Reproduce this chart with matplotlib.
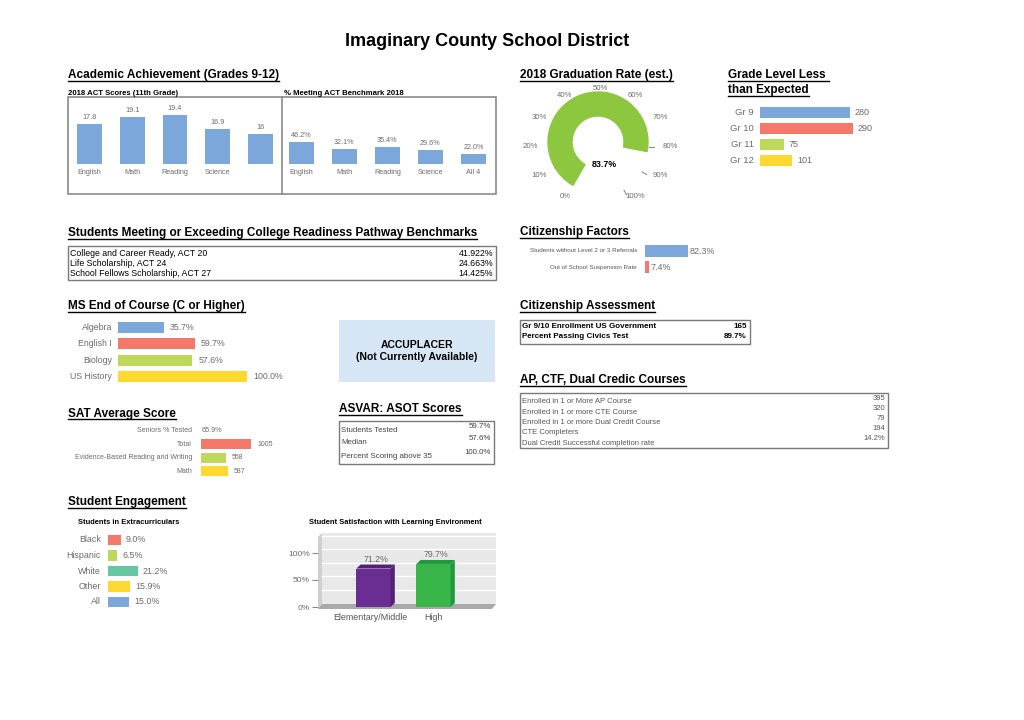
import matplotlib
matplotlib.use("Agg")
import numpy as np
import matplotlib.pyplot as plt
from matplotlib.patches import Rectangle, Wedge, Polygon

plt.rcParams['font.family'] = ['Liberation Sans', 'DejaVu Sans']

W, H = 1024, 720

# ---- data ----
act_subjects = ['English', 'Math', 'Reading', 'Science', '']
act_scores = [17.8, 19.1, 19.4, 16.9, 16]
bench_subjects = ['English', 'Math', 'Reading', 'Science', 'All 4']
bench_pct = [46.2, 32.1, 35.4, 29.6, 22.0]
grad_rate = 83.7
grade_labels = ['Gr 9', 'Gr 10', 'Gr 11', 'Gr 12']
grade_counts = [280, 290, 75, 101]
readiness_labels = ['College and Career Ready, ACT 20', 'Life Scholarship, ACT 24',
                    'School Fellows Scholarship, ACT 27']
readiness_values = ['41.922%', '24.663%', '14.425%']
citizen_labels = ['Students without Level 2 or 3 Referrals', 'Out of School Suspension Rate']
citizen_pct = [82.3, 7.4]
eoc_courses = ['Algebra', 'English I', 'Biology', 'US History']
eoc_pct = [35.7, 59.7, 57.6, 100.0]
sat_tested_label = 'Seniors % Tested'
sat_tested = '65.9%'
sat_labels = ['Total', 'Evidence-Based Reading and Writing', 'Math']
sat_scores = [1005, 558, 587]
asvab_labels = ['Students Tested', 'Median', 'Percent Scoring above 35']
asvab_values = ['59.7%', '57.6%', '100.0%']
civics_labels = ['Gr 9/10 Enrollment US Government', 'Percent Passing Civics Test']
civics_values = ['165', '89.7%']
ap_labels = ['Enrolled in 1 or More AP Course', 'Enrolled in 1 or more CTE Course',
             'Enrolled in 1 or more Dual Credit Course', 'CTE Completers',
             'Dual Credit Successful completion rate']
ap_values = ['395', '320', '79', '194', '14.2%']
extra_groups = ['Black', 'Hispanic', 'White', 'Other', 'All']
extra_pct = [9.0, 6.5, 21.2, 15.9, 15.0]
satis_levels = ['Elementary/Middle', 'High']
satis_pct = [71.2, 79.7]

# colours
BLUE = '#7BA7DB'
RED = '#F4796B'
LIME = '#BDD85B'
YELLOW = '#FFD92F'
TEAL = '#66C8A2'
GAUGE = '#8DC63F'
GRAY = '#6b6b6b'

fig = plt.figure(figsize=(W / 100, H / 100), dpi=100)
base = fig.add_axes([0, 0, 1, 1])
base.set_xlim(0, W)
base.set_ylim(H, 0)
base.axis('off')


def px_axes(x0, y0, x1, y1):
    """axes placed by pixel box (top-left origin)"""
    ax = fig.add_axes([x0 / W, 1 - y1 / H, (x1 - x0) / W, (y1 - y0) / H])
    ax.axis('off')
    return ax


headings = []


def heading(x, y, s, size=8.5):
    t = base.text(x, y, s, fontsize=size, fontweight='bold', va='baseline', ha='left')
    headings.append(t)


def note(ax, s, xy, dx, dy, **kw):
    kw.setdefault('color', GRAY)
    return ax.annotate(s, xy, xytext=(dx, dy), textcoords='offset pixels',
                       annotation_clip=False, **kw)


def hbar_panel(box, labels, values, colors, xmin, xmax, height, fs, lab_pad, val_pad,
               fmt, vfs=None, lab_color=GRAY):
    ax = px_axes(*box)
    pos = list(range(len(values)))
    ax.barh(pos, [v - xmin for v in values], left=xmin, height=height, color=colors)
    ax.set_xlim(xmin, xmax)
    ax.set_ylim(len(values) - 0.5, -0.5)
    for i, (lab, v) in enumerate(zip(labels, values)):
        note(ax, lab, (xmin, i), -lab_pad, 0, ha='right', va='center', fontsize=fs, color=lab_color)
        note(ax, fmt(v), (v, i), val_pad, 0, ha='left', va='center', fontsize=vfs or fs)
    return ax


def table(x0, y0, x1, y1, labels, values, label_y, value_y, fs, color, weight='normal'):
    base.add_patch(Rectangle((x0, y0), x1 - x0, y1 - y0, fill=False, ec='#7a7a7a', lw=1))
    for lab, ly in zip(labels, label_y):
        base.text(x0 + 2, ly, lab, fontsize=fs, color=color, va='center', fontweight=weight)
    for val, vy in zip(values, value_y):
        base.text(x1 - 3, vy, val, fontsize=fs, color=color, va='center', ha='right',
                  fontweight=weight)


# ---- title ----
base.text(487, 41, 'Imaginary County School District', ha='center', va='center',
          fontsize=13, fontweight='bold')

# ---- academic achievement ----
heading(68, 78, 'Academic Achievement (Grades 9-12)')
base.text(68, 95, '2018 ACT Scores (11th Grade)', fontsize=5.6, fontweight='bold')
base.text(284, 95, '% Meeting ACT Benchmark 2018', fontsize=5.6, fontweight='bold')
base.add_patch(Rectangle((68, 97), 428, 97, fill=False, ec='#8a8a8a', lw=1.2))
base.plot([282, 282], [97, 194], color='#8a8a8a', lw=1.2)

act_lo = 10.7
ax = px_axes(68, 100, 282, 164)
ax.bar(range(len(act_scores)), [s - act_lo for s in act_scores], bottom=act_lo,
       width=0.58, color=BLUE)
ax.set_xlim(-0.5, len(act_scores) - 0.5)
ax.set_ylim(act_lo, act_lo + 64 / 5.6)
for i, (lab, v) in enumerate(zip(act_subjects, act_scores)):
    note(ax, f'{v:g}', (i, v), 0, 3, ha='center', va='bottom', fontsize=5.2)
    note(ax, lab, (i, act_lo), 0, -5, ha='center', va='top', fontsize=5.2)

ax = px_axes(280, 100, 495, 164)
ax.bar(range(len(bench_pct)), bench_pct, width=0.58, color=BLUE)
ax.set_xlim(-0.5, len(bench_pct) - 0.5)
ax.set_ylim(0, 64 / 0.475)
for i, (lab, v) in enumerate(zip(bench_subjects, bench_pct)):
    note(ax, f'{v:.1f}%', (i, v), 0, 3, ha='center', va='bottom', fontsize=5.2)
    note(ax, lab, (i, 0), 0, -5, ha='center', va='top', fontsize=5.2)

# ---- graduation gauge ----
heading(520, 78, '2018 Graduation Rate (est.)')
gax = px_axes(528, 72, 668, 212)
gax.set_xlim(-70, 70)
gax.set_ylim(-70, 70)
g_start, g_span = 240, 300


def g_ang(p):
    return g_start - g_span * p / 100


gax.add_patch(Wedge((0, 0), 50, g_ang(grad_rate), g_ang(0), width=24, color=GAUGE))
for p in range(0, 101, 10):
    a = np.deg2rad(g_ang(p))
    c, s = np.cos(a), np.sin(a)
    if p + 10 > grad_rate:
        gax.plot([1 + 50 * c, 1 + 55 * c], [-5 + 50 * s, -5 + 55 * s],
                 color='#8a8a8a', lw=0.8)
    gax.text(2 + 70 * c, -4 + 58 * s, f'{p}%', ha='center', va='center',
             fontsize=5.6, color=GRAY)
gax.text(6, -22, f'{grad_rate}%', ha='center', va='center', fontsize=6.4, fontweight='bold')

# ---- grade level less than expected ----
heading(728, 78, 'Grade Level Less ')
heading(728, 93, 'than Expected')
hbar_panel((760, 103.9, 880, 169.1), grade_labels, grade_counts, [BLUE, RED, LIME, YELLOW],
           0, 375, 0.68, 6.8, 6, 5, lambda v: f'{v}', vfs=6.5)

# ---- college readiness ----
heading(68, 236, 'Students Meeting or Exceeding College Readiness Pathway Benchmarks')
table(68, 246, 496, 280, readiness_labels, readiness_values, [254, 264, 274], [254, 264, 274],
      6.3, 'black')

# ---- citizenship factors ----
heading(520, 235, 'Citizenship Factors')
hbar_panel((645, 243, 745, 275), citizen_labels, citizen_pct, [BLUE, RED], 0, 192, 0.72,
           4.5, 8, 2, lambda v: f'{v:.1f}%', vfs=6.4, lab_color='#555555')

# ---- MS end of course ----
heading(68, 309, 'MS End of Course (C or Higher)')
hbar_panel((118, 318.7, 318, 385.3), eoc_courses, eoc_pct, [BLUE, RED, LIME, YELLOW],
           0, 155, 0.66, 6.3, 6, 6, lambda v: f'{v:.1f}%')

base.add_patch(Rectangle((339, 320), 156, 62, fc='#D6E6F5', ec='none'))
base.text(417, 351, 'ACCUPLACER\n(Not Currently Available)', ha='center', va='center',
          fontsize=7.5, fontweight='bold', linespacing=1.3)

# ---- citizenship assessment ----
heading(520, 309, 'Citizenship Assessment')
table(520, 320, 750, 344, civics_labels, civics_values, [327, 337], [327, 337], 5.8, 'black',
      weight='bold')

# ---- AP / CTE / dual credit ----
heading(520, 383, 'AP, CTF, Dual Credic Courses')
table(520, 393, 888, 448, ap_labels, ap_values, [401.5, 412, 422.5, 433, 443.5],
      [398.5, 408.5, 418, 428, 438], 5.5, '#555555')

# ---- SAT ----
heading(68, 416.5, 'SAT Average Score')
sat_lo = 110
sax = hbar_panel((201, 437.7, 301, 477.9), sat_labels, sat_scores, [RED, LIME, YELLOW],
                 sat_lo, sat_lo + 100 / 0.0559, 0.74, 5, 9, 6, lambda v: f'{v}')
note(sax, sat_tested_label, (sat_lo, -1), -9, 0, ha='right', va='center', fontsize=5)
note(sax, sat_tested, (sat_lo, -1), 1, 0, ha='left', va='center', fontsize=5.2)

# ---- ASVAB ----
heading(339, 412.5, 'ASVAR: ASOT Scores')
table(339, 421, 494, 464, asvab_labels, asvab_values, [430, 443, 456], [426, 439, 452],
      5.7, '#444444')

# ---- student engagement ----
heading(68, 505, 'Student Engagement')
base.text(129, 523, 'Students in Extracurriculars', ha='center', va='center', fontsize=5.4,
          fontweight='bold')
base.text(395, 523, 'Student Satisfaction with Learning Environment', ha='center',
          va='center', fontsize=5.4, fontweight='bold')

hbar_panel((108, 532.25, 208, 609.75), extra_groups, extra_pct, [RED, LIME, TEAL, YELLOW, BLUE],
           0, 71.4, 0.7, 6.4, 7, 5, lambda v: f'{v:.1f}%')

# 3D-look column chart: wall, side wall and floor
base.add_patch(Rectangle((322, 533), 174, 71, fc='#E8E8E8', ec='none'))
base.add_patch(Polygon([(318, 537), (322, 533), (322, 604), (318, 609)], fc='#CFCFCF', ec='none'))
base.add_patch(Polygon([(318, 609), (322, 604), (496, 604), (492, 609)], fc='#A9A9A9', ec='none'))
for k in range(1, 6):
    gy = 603 - 13.5 * k
    base.plot([322, 496], [gy, gy], color='white', lw=1)

cax = fig.add_axes([318 / W, 1 - 607 / H, 178 / W, 74 / H])
cax.patch.set_alpha(0)
for s in cax.spines.values():
    s.set_visible(False)
cax.set_xlim(-55.5 / 60, (178 - 55.5) / 60)
cax.set_ylim(0, 74 / 0.54)
cax.set_xticks([])
cax.set_yticks([0, 50, 100])
cax.set_yticklabels(['0%', '50%', '100%'])
cax.tick_params(axis='y', length=4, color='#8a8a8a', labelsize=6.1, labelcolor=GRAY, pad=2)
bw, ddx, ddy = 0.57, 0.07, 7.4
fronts = ['#6A2D91', '#3AB54A']
sides = ['#55207A', '#1E9A3C']
cax.bar(range(len(satis_pct)), satis_pct, width=bw, color=fronts, zorder=3)
for i, v in enumerate(satis_pct):
    x0, x1 = i - bw / 2, i + bw / 2
    cax.add_patch(Polygon([(x0, v), (x1, v), (x1 + ddx, v + ddy), (x0 + ddx, v + ddy)],
                          fc=sides[i], ec='none', zorder=3))
    cax.add_patch(Polygon([(x1, 0), (x1 + ddx, ddy), (x1 + ddx, v + ddy), (x1, v)],
                          fc=sides[i], ec='none', zorder=3))
    note(cax, f'{v:.1f}%', (i + ddx / 2, v + ddy), 0, 1, ha='center', va='bottom', fontsize=6.3)
    note(cax, satis_levels[i], (i, 0), -3 if i == 0 else 0, -6, ha='center', va='top',
         fontsize=6.4, color='#555555')

# underline the section headings
fig.canvas.draw()
rend = fig.canvas.get_renderer()
for t in headings:
    bb = t.get_window_extent(rend)
    x, y = t.get_position()
    base.plot([bb.x0, bb.x1], [y + 2.5, y + 2.5], color='black', lw=1)

fig.savefig('out.png', dpi=100)
